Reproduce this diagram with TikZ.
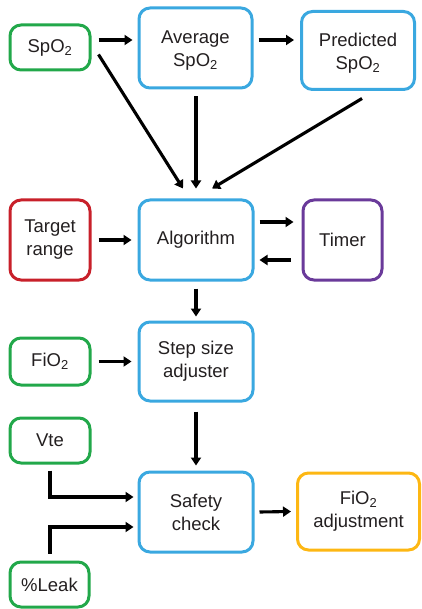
\documentclass[tikz,border=0pt]{standalone}
\usepackage{fontspec}
\setmainfont{Liberation Sans}
\usetikzlibrary{arrows.meta,calc}
\definecolor{cgreen}{HTML}{22A84A}
\definecolor{cblue}{HTML}{3AA8E0}
\definecolor{cred}{HTML}{C8202A}
\definecolor{cpurple}{HTML}{6A3A9A}
\definecolor{corange}{HTML}{FDB713}
\definecolor{ctext}{HTML}{231F20}
\begin{document}
\begin{tikzpicture}[x=1pt,y=-1pt,
  box/.style={draw, line width=3pt, rounded corners=11pt, align=center, inner sep=0pt,
    text=ctext, font=\fontsize{18.5}{23}\selectfont},
  arr/.style={line width=3.1pt, -{Triangle[length=8pt,width=10pt]}, line join=miter}]
\useasboundingbox (0,0) rectangle (422,609);
\node[box, draw=cgreen, minimum width=80pt, minimum height=45pt] (spo2) at (50,47.5) {SpO\textsubscript{2}};
\node[box, draw=cblue, minimum width=113pt, minimum height=80pt] (avg) at (195.5,48) {\rule{0pt}{18pt}Average\\SpO\textsubscript{2}};
\node[box, draw=cblue, minimum width=113pt, minimum height=78pt] (pred) at (358,50.5) {\rule{0pt}{18pt}Predicted\\SpO\textsubscript{2}};
\node[box, draw=cred, minimum width=80pt, minimum height=80pt] (target) at (50,240) {Target\\range};
\node[box, draw=cblue, minimum width=114pt, minimum height=80pt] (algo) at (196,240) {Algorithm};
\node[box, draw=cpurple, minimum width=79pt, minimum height=80pt] (timer) at (342.5,240) {Timer};
\node[box, draw=cgreen, minimum width=80pt, minimum height=47pt] (fio2) at (50,361.5) {FiO\textsubscript{2}};
\node[box, draw=cblue, minimum width=114pt, minimum height=79pt] (step) at (196,361.5) {Step size\\adjuster};
\node[box, draw=cgreen, minimum width=80pt, minimum height=45pt] (vte) at (50,440.5) {Vte};
\node[box, draw=cblue, minimum width=114pt, minimum height=80pt] (safety) at (196,512) {Safety\\check};
\node[box, draw=corange, minimum width=122pt, minimum height=77pt] (adj) at (358.5,511.5) {FiO\textsubscript{2}\\adjustment};
\node[box, draw=cgreen, minimum width=79pt, minimum height=45pt] (leak) at (49.5,584.5) {\%Leak};

\draw[arr] ($(spo2.east)+(7,-7.5)$) -- ($(avg.west)+(-5,-8)$);
\draw[arr] ($(avg.east)+(5,-8)$) -- ($(pred.west)+(-6,-10.5)$);
\draw[arr] ($(spo2.south east)+(7,-17)$) -- ($(algo.north)+(-13,-10)$);
\draw[arr] ($(avg.south)+(0.5,7)$) -- ($(algo.north)+(0,-10)$);
\draw[arr] ($(pred.south)+(4,7.5)$) -- ($(algo.north)+(16,-10)$);
\draw[arr] ($(target.east)+(7,0)$) -- ($(algo.west)+(-6,0)$);
\draw[arr] ($(algo.east)+(5,-18)$) -- ($(timer.west)+(-8,-18)$);
\draw[arr] ($(timer.west)+(-11,20)$) -- ($(algo.east)+(5,20)$);
\draw[arr] ($(algo.south)+(0,7)$) -- ($(step.north)+(0,-4)$);
\draw[arr] ($(fio2.east)+(7,0)$) -- ($(step.west)+(-6,0)$);
\draw[arr] ($(step.south)+(0,9)$) -- ($(safety.north)+(0,-5)$);
\draw[arr] ($(vte.south)+(0,6)$) |- ($(safety.west)+(-4,-15)$);
\draw[arr] ($(leak.north)+(0.5,-7)$) |- ($(safety.west)+(-4,15)$);
\draw[arr] ($(safety.east)+(5,0)$) -- ($(adj.west)+(-5,0)$);
\end{tikzpicture}
\end{document}
